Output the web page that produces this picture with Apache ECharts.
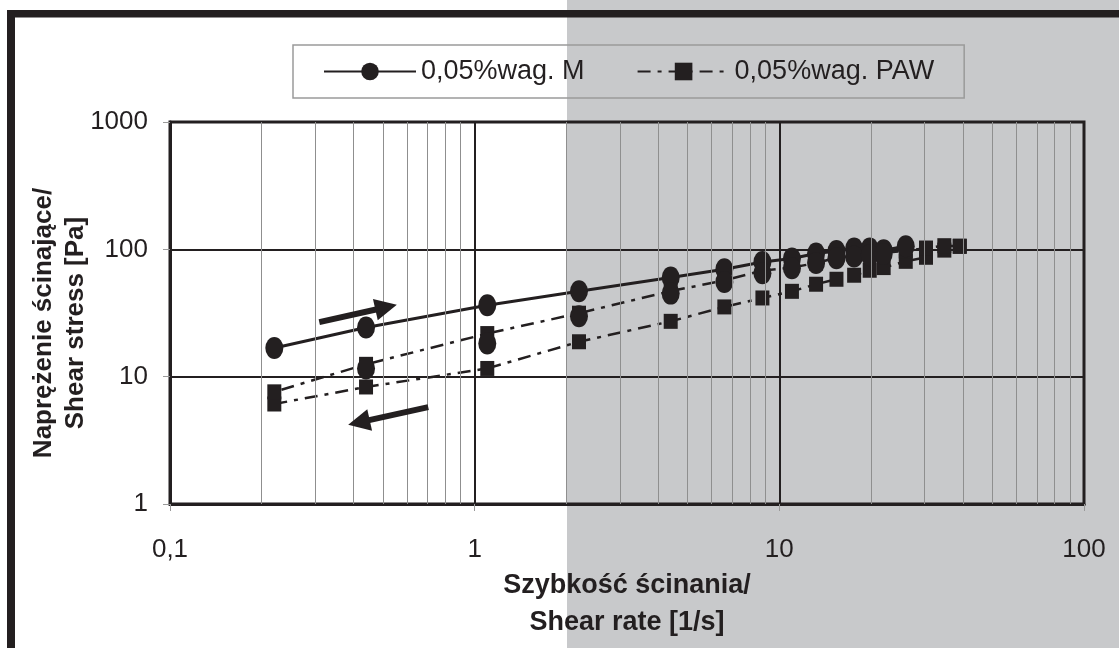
<!DOCTYPE html>
<html>
<head>
<meta charset="utf-8">
<script src="https://cdn.jsdelivr.net/npm/echarts@6/dist/echarts.min.js"></script>
<style>
html,body{margin:0;padding:0;background:#fff;}
#c{width:1119px;height:648px;}
</style>
</head>
<body>
<div id="c"></div>
<script>
// ---- data ----
var seriesNames = ['0,05%wag. M', '0,05%wag. PAW'];
var xTickLabels = ['0,1', '1', '10', '100'];
var yTickLabels = ['1', '10', '100', '1000'];

var rateM_up = [0.22, 0.44, 1.1, 2.2, 4.4, 6.6, 8.8, 11, 13.2, 15.4, 17.6, 19.8, 22, 26];
var stressM_up = [16.8, 24.3, 36.4, 46.8, 60, 69.8, 79.6, 84.7, 92.7, 97, 101.4, 101.4, 98.4, 105.7];

var rateM_down = [0.44, 1.1, 2.2, 4.4, 6.6, 8.8, 11, 13.2, 15.4, 17.6, 19.8, 22];
var stressM_down = [11.6, 18.2, 29.8, 44.9, 55.4, 64.8, 71, 78, 85, 88, 90, 92];

var ratePAW_up = [0.22, 0.44, 1.1, 2.2, 4.4, 6.6, 8.8, 11, 13.2, 15.4, 17.6, 19.8, 22, 26, 30.3, 34.8, 39.1];
var stressPAW_up = [6.1, 8.3, 11.6, 18.8, 27.2, 35.3, 41.5, 46.8, 53.2, 58.2, 62.6, 68.5, 71.9, 80.5, 86.6, 98.6, 105.7];

var ratePAW_down = [39.1, 34.8, 30.3, 26, 22, 19.8, 17.6, 15.4, 13.2, 11, 8.8, 6.6, 4.4, 2.2, 1.1, 0.44, 0.22];
var stressPAW_down = [105.7, 106.8, 102.4, 97, 94, 92, 89, 86, 78, 72, 68, 57, 47, 31.5, 21.8, 12.5, 7.6];

// minor vertical gridline positions (log x axis)
var minorX = [0.2, 0.3, 0.4, 0.5, 0.6, 0.7, 0.8, 0.9, 2, 3, 4, 5, 6, 7, 8, 9, 20, 30, 40, 50, 60, 70, 80, 90];

// annotation arrows [from, to(head centre)] in data coordinates
var arrowUp = [[0.309, 26.8], [0.512, 35.1]];
var arrowDown = [[0.704, 5.77], [0.417, 4.37]];

function pairs(xs, ys) { return xs.map(function (x, i) { return [x, ys[i]]; }); }

var INK = '#231f20';
var GRAY_BG = '#c8c9cb';
var FONT = "'Liberation Sans', Arial, sans-serif";
var DASH = [13, 7, 4, 7];

var chart = echarts.init(document.getElementById('c'), null, {renderer: 'canvas'});
var option = {
  animation: false,
  backgroundColor: '#ffffff',
  textStyle: {fontFamily: FONT, color: INK},
  graphic: [
    {type: 'rect', z: -100, silent: true, shape: {x: 567, y: 0, width: 560, height: 648}, style: {fill: GRAY_BG}},
    {type: 'rect', z: -90, silent: true, shape: {x: 7, y: 10, width: 1120, height: 7.5}, style: {fill: INK}},
    {type: 'rect', z: -90, silent: true, shape: {x: 7, y: 10, width: 8, height: 640}, style: {fill: INK}}
  ],
  grid: {
    left: 170, right: 35, top: 122, bottom: 144,
    show: true, borderColor: INK, borderWidth: 3, backgroundColor: 'transparent'
  },
  legend: {
    data: seriesNames,
    left: 293, top: 45,
    padding: [13, 30, 13, 30],
    itemWidth: 92, itemHeight: 22, itemGap: 52, itemTextGap: 10,
    borderColor: '#9a9a9a', borderWidth: 1.5,
    textStyle: {fontFamily: FONT, fontSize: 27, color: INK}
  },
  xAxis: {
    type: 'log', logBase: 10, min: 0.1, max: 100,
    name: 'Szybkość ścinania/\nShear rate [1/s]',
    nameLocation: 'middle', nameGap: 63, nameMoveOverlap: false,
    nameTextStyle: {fontFamily: FONT, fontSize: 27, fontWeight: 'bold', color: INK, lineHeight: 37},
    axisLine: {show: true, lineStyle: {color: INK, width: 3}},
    axisTick: {show: true, length: 7, inside: false, lineStyle: {color: '#9a9a9a', width: 1}},
    axisLabel: {
      margin: 33, fontSize: 26, color: INK, fontFamily: FONT,
      formatter: function (v) {
        var idx = Math.round(Math.log10(v)) + 1;
        return xTickLabels[idx] !== undefined ? xTickLabels[idx] : '';
      }
    },
    splitLine: {show: true, lineStyle: {color: INK, width: 2}},
    minorTick: {show: false}
  },
  yAxis: {
    type: 'log', logBase: 10, min: 1, max: 1000,
    name: 'Naprężenie ścinające/\nShear stress [Pa]',
    nameLocation: 'middle', nameGap: 78, nameRotate: 90, nameMoveOverlap: false,
    nameTextStyle: {fontFamily: FONT, fontSize: 26, fontWeight: 'bold', color: INK, lineHeight: 32, padding: [0, 20, 0, 0]},
    axisLine: {show: true, lineStyle: {color: INK, width: 3}},
    axisTick: {show: true, length: 7, inside: false, lineStyle: {color: '#9a9a9a', width: 1}},
    axisLabel: {
      margin: 22, fontSize: 26, color: INK, fontFamily: FONT,
      formatter: function (v) {
        var idx = Math.round(Math.log10(v));
        return yTickLabels[idx] !== undefined ? yTickLabels[idx] : '';
      }
    },
    splitLine: {show: true, lineStyle: {color: INK, width: 2}}
  },
  series: [
    {
      name: 'minor-grid', type: 'line', data: [], z: 1, silent: true,
      markLine: {
        silent: true, symbol: ['none', 'none'], label: {show: false}, animation: false,
        lineStyle: {color: '#8f8f8f', width: 1, type: 'solid'},
        emphasis: {disabled: true},
        data: minorX.map(function (v) { return {xAxis: v}; })
      }
    },
    {
      name: seriesNames[1], type: 'line', z: 3,
      data: pairs(ratePAW_up, stressPAW_up),
      symbol: 'rect', symbolSize: [14, 15],
      itemStyle: {color: INK},
      lineStyle: {color: INK, width: 2.5, type: DASH}
    },
    {
      name: seriesNames[1], type: 'line', z: 3,
      data: pairs(ratePAW_down, stressPAW_down),
      symbol: 'rect', symbolSize: [14, 15],
      itemStyle: {color: INK},
      lineStyle: {color: INK, width: 2.5, type: DASH}
    },
    {
      name: seriesNames[0], type: 'line', z: 4,
      data: pairs(rateM_up, stressM_up),
      symbol: 'circle', symbolSize: [18, 22],
      itemStyle: {color: INK},
      lineStyle: {color: INK, width: 3, type: 'solid'}
    },
    {
      name: seriesNames[0], type: 'line', z: 4,
      data: pairs(rateM_down, stressM_down),
      symbol: 'circle', symbolSize: [18, 22],
      itemStyle: {color: INK},
      lineStyle: {width: 0, opacity: 0}
    },
    {
      name: 'arrows', type: 'line', data: [], z: 5, silent: true,
      markLine: {
        silent: true, symbol: ['none', 'triangle'], symbolSize: 22, label: {show: false},
        lineStyle: {color: INK, width: 6, type: 'solid'},
        emphasis: {disabled: true},
        data: [
          [{coord: arrowUp[0]}, {coord: arrowUp[1]}],
          [{coord: arrowDown[0]}, {coord: arrowDown[1]}]
        ]
      }
    }
  ]
};
chart.setOption(option);
</script>
</body>
</html>
